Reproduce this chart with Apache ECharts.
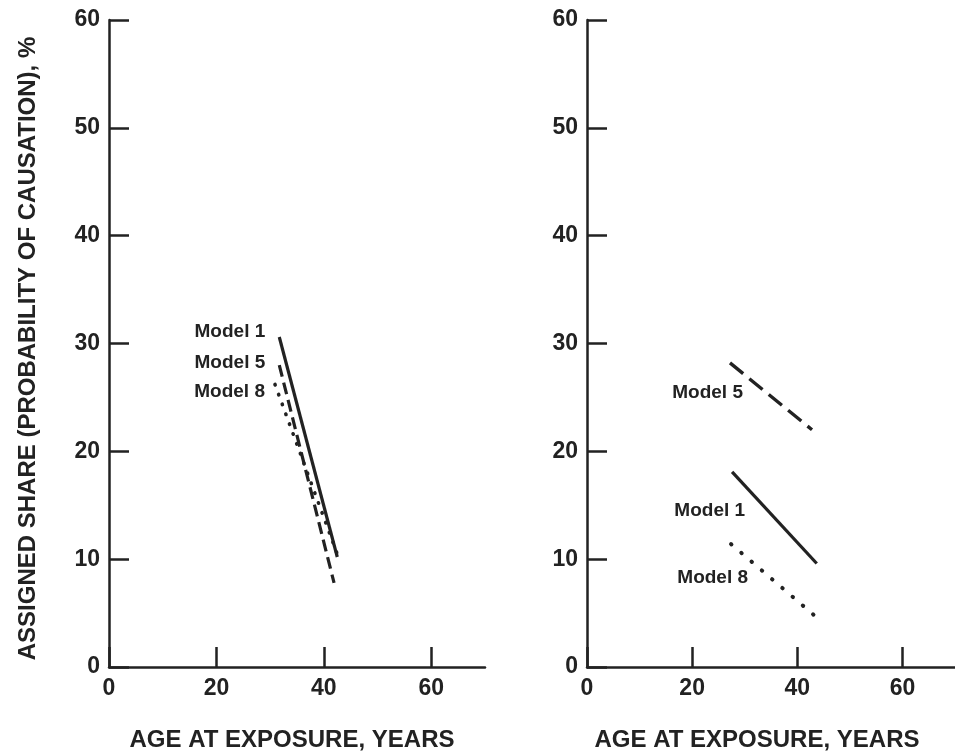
<!DOCTYPE html>
<html>
<head>
<meta charset="utf-8">
<title>Assigned share by age at exposure</title>
<script src="https://cdn.jsdelivr.net/npm/echarts@6/dist/echarts.min.js"></script>
<style>
  html, body { margin: 0; padding: 0; background: #ffffff; }
  #chart { width: 955px; height: 751px; }
</style>
</head>
<body>
<div id="chart"></div>
<script>
// Axis ticks (both panels share the same scales)
const yTicks = [0, 10, 20, 30, 40, 50, 60];
const xTicks = [0, 20, 40, 60];

// Left panel: [age at exposure, assigned share %]
const leftModel1 = [[31.7, 30.6], [42.5, 10.2]];
const leftModel5 = [[31.7, 28.0], [41.9, 7.8]];
const leftModel8 = [[30.9, 26.2], [42.4, 10.6]];

// Right panel
const rightModel5 = [[27.2, 28.2], [42.8, 22.0]];
const rightModel1 = [[27.6, 18.1], [43.7, 9.6]];
const rightModel8 = [[27.4, 11.4], [43.2, 4.8]];

const INK = '#222222';
const FONT = '"Liberation Sans", Arial, Helvetica, sans-serif';

function yAxisFor(gridIndex, withName) {
  return {
    type: 'value', gridIndex: gridIndex,
    min: 0, max: 60, interval: 10,
    name: withName ? 'ASSIGNED SHARE (PROBABILITY OF CAUSATION), %' : '',
    nameLocation: 'middle', nameGap: 69,
    nameTextStyle: { color: INK, fontFamily: FONT, fontWeight: 'bold', fontSize: 24,
                     padding: [0, 10, 0, 0] },
    axisLine: { show: true, lineStyle: { color: INK, width: 2.5 } },
    axisTick: { show: true, inside: true, length: 20, lineStyle: { color: INK, width: 2.5 },
                customValues: yTicks },
    axisLabel: { color: INK, fontFamily: FONT, fontWeight: 'bold', fontSize: 23, margin: 9,
                 customValues: yTicks },
    splitLine: { show: false }
  };
}

function xAxisFor(gridIndex, shift) {
  return {
    type: 'value', gridIndex: gridIndex,
    min: 0, max: 70,
    name: 'AGE AT EXPOSURE, YEARS',
    nameLocation: 'middle', nameGap: 61,
    nameTextStyle: { color: INK, fontFamily: FONT, fontWeight: 'bold', fontSize: 24,
                     padding: [0, shift, 0, 0] },
    axisLine: { show: true, onZero: false, lineStyle: { color: INK, width: 2.5 } },
    axisTick: { show: true, inside: true, length: 20, lineStyle: { color: INK, width: 2.5 },
                customValues: xTicks },
    axisLabel: { color: INK, fontFamily: FONT, fontWeight: 'bold', fontSize: 23, margin: 10,
                 customValues: xTicks },
    splitLine: { show: false }
  };
}

const solid = { color: INK, width: 3.2, type: 'solid' };
const dashL = { color: INK, width: 3.2, type: [12, 6] };
const dashR = { color: INK, width: 3.4, type: [17, 8] };
const dotL = { color: INK, width: 3.6, type: [0.5, 10], cap: 'round' };
const dotR = { color: INK, width: 4, type: [0.5, 13], cap: 'round' };

// Labels sit beside the first point of each line
function modelSeries(name, data, axis, lineStyle, labelOpt) {
  return {
    type: 'line', name: name,
    xAxisIndex: axis, yAxisIndex: axis,
    data: data.map(function (p, i) {
      const item = { value: p };
      if (i === 0) {
        item.label = Object.assign({
          show: true, formatter: name, position: 'left',
          color: INK, fontFamily: FONT, fontWeight: 'bold', fontSize: 19
        }, labelOpt);
      }
      return item;
    }),
    symbol: 'circle', symbolSize: 0, showSymbol: true,
    itemStyle: { color: INK },
    lineStyle: lineStyle,
    silent: true, animation: false
  };
}

const chart = echarts.init(document.getElementById('chart'), null, { renderer: 'canvas' });
chart.setOption({
  backgroundColor: '#ffffff',
  animation: false,
  grid: [
    { left: 109, top: 20, width: 376, height: 647, outerBoundsMode: 'none', containLabel: false },
    { left: 587, top: 20, width: 368, height: 647, outerBoundsMode: 'none', containLabel: false }
  ],
  xAxis: [xAxisFor(0, 10), xAxisFor(1, 28)],
  yAxis: [yAxisFor(0, true), yAxisFor(1, false)],
  series: [
    modelSeries('Model 1', leftModel1, 0, solid, { distance: 14, offset: [0, -5] }),
    modelSeries('Model 5', leftModel5, 0, dashL, { distance: 14, offset: [0, -2] }),
    modelSeries('Model 8', leftModel8, 0, dotL, { distance: 10, offset: [0, 7] }),
    modelSeries('Model 5', rightModel5, 1, dashR, { distance: 0, offset: [13, 30] }),
    modelSeries('Model 1', rightModel1, 1, solid, { distance: 0, offset: [13, 39] }),
    modelSeries('Model 8', rightModel8, 1, dotR, { distance: 0, offset: [17, 34] })
  ]
});
</script>
</body>
</html>
